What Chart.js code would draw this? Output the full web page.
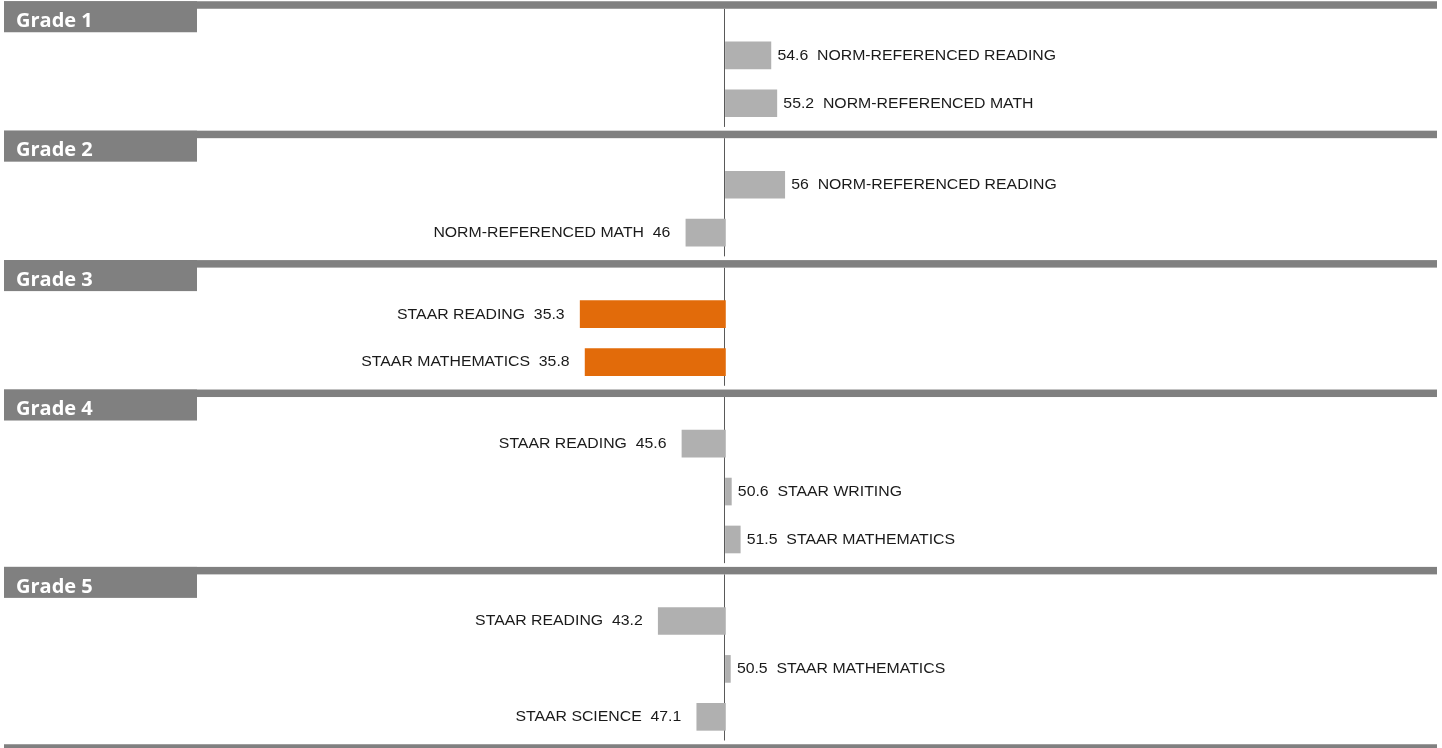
<!DOCTYPE html>
<html>
<head>
<meta charset="utf-8">
<script src="https://cdn.jsdelivr.net/npm/chart.js@4"></script>
<style>
  html, body { margin: 0; padding: 0; background: #fff; }
  #wrap { width: 1442px; height: 748px; position: relative; }
</style>
</head>
<body>
<div id="wrap"><canvas id="gap-chart"></canvas></div>
<script>
const grades = ['Grade 1', 'Grade 2', 'Grade 3', 'Grade 4', 'Grade 5'];

// one entry per bar, top to bottom
const subjects = [
  'NORM-REFERENCED READING', 'NORM-REFERENCED MATH',
  'NORM-REFERENCED READING', 'NORM-REFERENCED MATH',
  'STAAR READING', 'STAAR MATHEMATICS',
  'STAAR READING', 'STAAR WRITING', 'STAAR MATHEMATICS',
  'STAAR READING', 'STAAR MATHEMATICS', 'STAAR SCIENCE'
];
const subjectGrade = [0, 0, 1, 1, 2, 2, 3, 3, 3, 4, 4, 4];
const scores = [54.6, 55.2, 56, 46, 35.3, 35.8, 45.6, 50.6, 51.5, 43.2, 50.5, 47.1];

const midpoint = 50;
const lowCutoff = 40;

// row layout in "row units": header gap above first bar, smaller gap below last bar
const HEAD_GAP = 1.05;
const TAIL_GAP = 0.65;

const rowPos = [];
const sepPos = [0];
let cursor = 0;
grades.forEach((g, gi) => {
  let first = true;
  subjectGrade.forEach((sg, i) => {
    if (sg !== gi) return;
    cursor += first ? HEAD_GAP : 1;
    first = false;
    rowPos[i] = cursor;
  });
  cursor += TAIL_GAP;
  sepPos.push(cursor);
});

const GREY = '#b0b0b0';
const ORANGE = '#e26b0a';
const HEADER = '#808080';
const TEXT_STRETCH = 1.13;

function stretchedText(ctx, text, x, y, align) {
  ctx.save();
  ctx.translate(x, y);
  ctx.scale(TEXT_STRETCH, 1);
  ctx.textAlign = align;
  ctx.fillText(text, 0, 0);
  ctx.restore();
}

const decorations = {
  id: 'decorations',
  beforeDatasetsDraw(chart) {
    const { ctx, scales: { x, y } } = chart;
    const cx = Math.round(x.getPixelForValue(midpoint)) - 0.5;
    ctx.save();
    ctx.strokeStyle = '#595959';
    ctx.lineWidth = 1;
    for (let i = 0; i < sepPos.length - 1; i++) {
      const top = y.getPixelForValue(sepPos[i]) + 3.75;
      const bottom = y.getPixelForValue(sepPos[i + 1]) - 7.5;
      ctx.beginPath();
      ctx.moveTo(cx, top);
      ctx.lineTo(cx, bottom);
      ctx.stroke();
    }
    ctx.restore();
  },
  afterDatasetsDraw(chart) {
    const { ctx, chartArea, scales: { x, y } } = chart;
    ctx.save();

    // group separators and grade tabs
    ctx.fillStyle = HEADER;
    sepPos.forEach(p => {
      const py = y.getPixelForValue(p);
      ctx.fillRect(chartArea.left, py - 3.75, chartArea.right - chartArea.left, 7.5);
    });
    grades.forEach((g, gi) => {
      const py = y.getPixelForValue(sepPos[gi]);
      ctx.fillStyle = HEADER;
      ctx.fillRect(chartArea.left, py - 3.75, 193, 31);
      ctx.fillStyle = '#ffffff';
      ctx.font = 'bold 20px "Open Sans"';
      ctx.textBaseline = 'alphabetic';
      ctx.textAlign = 'left';
      ctx.fillText(g, 16, py + 22);
    });

    // bar labels
    ctx.fillStyle = '#1a1a1a';
    ctx.font = '14px "Liberation Sans", Arial, sans-serif';
    ctx.textBaseline = 'middle';
    const meta = chart.getDatasetMeta(0);
    meta.data.forEach((bar, i) => {
      const v = scores[i];
      const py = bar.y + 0.5;
      if (v >= midpoint) {
        stretchedText(ctx, v + '  ' + subjects[i], x.getPixelForValue(v) + 6.5, py, 'left');
      } else {
        stretchedText(ctx, subjects[i] + '  ' + v, x.getPixelForValue(v) - 15.5, py, 'right');
      }
    });
    ctx.restore();
  }
};

new Chart(document.getElementById('gap-chart'), {
  type: 'bar',
  data: {
    datasets: [{
      data: scores.map((v, i) => ({ x: [midpoint, v], y: rowPos[i] })),
      backgroundColor: scores.map(v => v < lowCutoff ? ORANGE : GREY),
      borderWidth: 0,
      barThickness: 27
    }]
  },
  options: {
    indexAxis: 'y',
    responsive: true,
    maintainAspectRatio: false,
    animation: false,
    layout: { padding: { top: 5, bottom: 0, left: 4, right: 5 } },
    plugins: { legend: { display: false }, tooltip: { enabled: false } },
    scales: {
      x: { type: 'linear', min: -23, max: 122, display: false, grid: { display: false } },
      y: { type: 'linear', min: 0, max: sepPos[sepPos.length - 1], reverse: true, offset: false, display: false, grid: { display: false } }
    }
  },
  plugins: [decorations]
});
</script>
</body>
</html>
